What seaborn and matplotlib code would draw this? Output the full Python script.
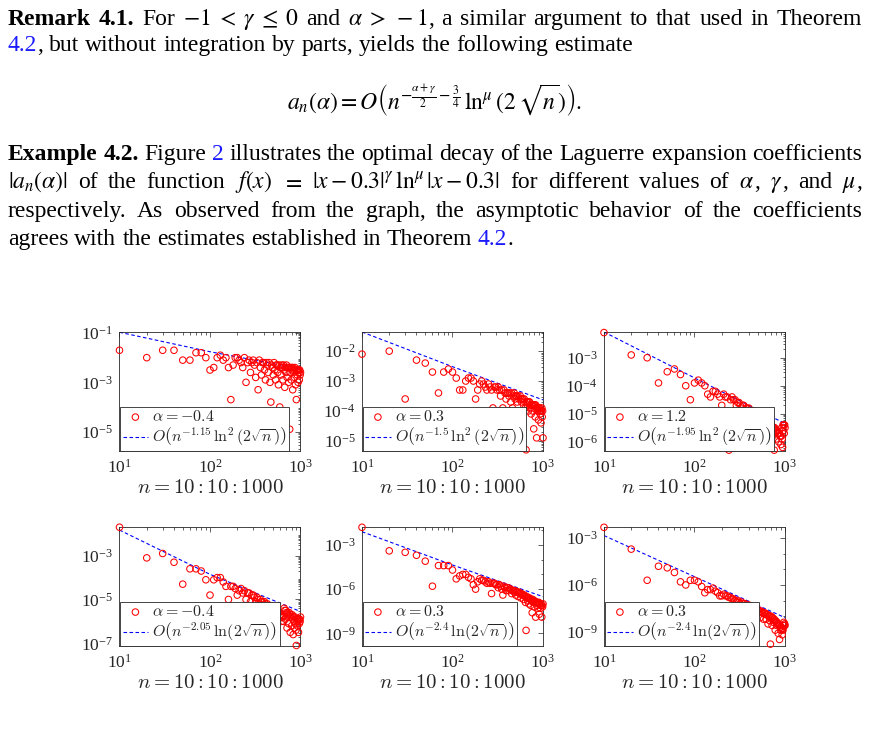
import matplotlib
matplotlib.use("Agg")
import matplotlib.pyplot as plt
import matplotlib.ticker as mticker
import numpy as np
import pandas as pd
import seaborn as sns

# ---------------- data ----------------
N_VALUES = list(range(10, 1001, 10))   # n = 10:10:1000

# log10 |a_n(alpha)| for each panel, n = 10, 20, ..., 1000
P1_LOG = [-1.7, -2.0, -1.7, -1.7, -2.1, -2.1, -1.8, -1.8, -2.0, -2.5,
          -2.4, -2.0, -1.9, -2.1, -2.0, -2.4, -3.7, -2.3, -2.0, -2.0,
          -2.1, -2.2, -2.4, -2.0, -3.0, -2.2, -2.1, -2.6, -2.2, -2.1,
          -2.3, -2.8, -2.2, -3.3, -2.1, -2.4, -2.7, -2.2, -2.2, -2.5,
          -2.9, -2.2, -2.3, -2.6, -2.2, -3.0, -3.8, -2.3, -2.4, -2.7,
          -2.2, -2.5, -2.9, -2.3, -2.3, -2.6, -3.1, -2.3, -4.0, -2.4,
          -2.7, -2.3, -2.4, -2.9, -2.3, -2.5, -3.2, -2.4, -2.6, -2.3,
          -2.8, -2.4, -2.4, -3.0, -2.4, -4.9, -2.6, -2.4, -2.9, -2.4,
          -2.5, -3.3, -2.4, -2.6, -2.5, -2.8, -2.4, -3.1, -2.5, -3.7,
          -2.5, -2.7, -2.5, -3.0, -2.5, -2.6, -2.9, -2.5, -2.7, -2.6]
P2_LOG = [-2.1, -2.0, -3.6, -2.3, -2.4, -2.7, -3.4, -2.7, -2.6, -2.7,
          -2.9, -3.3, -3.3, -3.0, -2.9, -2.9, -3.0, -3.6, -3.3, -3.1,
          -3.0, -3.1, -3.2, -3.3, -3.1, -3.2, -3.3, -3.9, -3.2, -3.2,
          -3.3, -3.2, -3.3, -3.5, -3.3, -3.9, -3.3, -3.4, -3.6, -3.4,
          -3.4, -3.5, -3.4, -3.7, -3.4, -3.9, -3.5, -3.4, -3.6, -3.5,
          -3.5, -3.7, -3.5, -3.6, -4.4, -3.5, -3.6, -3.7, -3.6, -3.6,
          -3.8, -3.6, -3.7, -3.9, -5.3, -3.7, -3.8, -3.7, -4.0, -3.7,
          -3.7, -3.9, -3.8, -4.1, -3.8, -3.8, -4.0, -3.8, -4.6, -3.8,
          -3.8, -4.2, -3.8, -3.9, -4.9, -3.9, -4.0, -3.9, -4.3, -3.9,
          -4.0, -3.9, -4.1, -4.0, -4.4, -4.0, -3.9, -4.2, -4.0, -4.9]
P3_LOG = [-2.1, -2.9, -3.0, -3.9, -3.5, -3.4, -3.6, -4.0, -4.5, -3.9,
          -3.8, -3.9, -4.0, -4.3, -4.4, -4.2, -4.2, -4.3, -4.4, -4.7,
          -4.3, -4.4, -4.4, -6.3, -4.5, -4.4, -4.5, -4.5, -4.7, -4.6,
          -4.6, -4.7, -4.8, -4.7, -4.7, -5.0, -4.8, -4.8, -4.9, -4.8,
          -4.9, -5.2, -4.9, -4.9, -5.0, -5.0, -5.3, -5.0, -5.1, -5.0,
          -5.1, -5.1, -5.4, -5.1, -5.1, -5.2, -5.2, -5.5, -5.2, -5.2,
          -5.3, -5.3, -5.6, -5.3, -5.3, -5.4, -5.4, -5.7, -5.4, -5.4,
          -5.4, -5.5, -5.8, -5.5, -5.5, -6.3, -5.5, -5.6, -5.6, -5.9,
          -5.6, -5.6, -5.7, -5.7, -6.0, -5.7, -5.7, -5.8, -5.8, -6.1,
          -5.8, -5.5, -5.9, -6.2, -5.4, -5.6, -5.4, -5.7, -5.4, -5.5]
P4_LOG = [-1.7, -3.1, -2.9, -3.3, -4.3, -3.6, -3.6, -3.7, -4.1, -4.8,
          -4.1, -4.0, -4.0, -4.2, -4.4, -5.0, -4.4, -4.4, -4.5, -4.8,
          -4.6, -4.5, -4.7, -4.6, -5.0, -4.7, -4.7, -5.1, -4.8, -4.8,
          -4.9, -5.1, -4.9, -5.0, -5.2, -5.0, -5.1, -5.1, -5.4, -5.1,
          -5.2, -5.3, -5.2, -5.4, -5.3, -5.3, -5.6, -5.3, -5.4, -5.5,
          -5.4, -5.7, -5.5, -5.5, -5.6, -5.6, -5.9, -5.6, -5.7, -5.7,
          -5.8, -6.0, -5.8, -5.8, -6.0, -5.4, -5.5, -5.9, -5.5, -5.6,
          -6.3, -5.6, -5.7, -6.1, -5.6, -5.8, -6.5, -5.7, -5.8, -6.2,
          -5.7, -5.9, -6.6, -5.8, -6.0, -6.3, -5.8, -6.1, -6.4, -7.1,
          -5.9, -6.2, -5.9, -6.0, -6.5, -5.9, -6.1, -5.9, -6.0, -5.8]
P5_LOG = [-1.8, -3.4, -3.5, -3.7, -4.1, -5.8, -4.4, -4.4, -4.4, -4.7,
          -5.3, -5.1, -5.0, -5.0, -5.2, -5.3, -5.7, -6.0, -5.5, -5.3,
          -5.4, -5.4, -5.5, -5.6, -5.5, -5.6, -6.3, -5.6, -5.6, -5.7,
          -5.7, -5.9, -5.7, -5.8, -6.0, -6.4, -5.8, -5.9, -6.1, -5.9,
          -5.9, -6.1, -6.0, -6.0, -6.3, -6.1, -6.1, -6.2, -6.1, -6.4,
          -6.2, -6.2, -6.5, -6.2, -6.3, -6.3, -6.6, -6.3, -6.4, -6.4,
          -6.7, -6.4, -6.5, -6.9, -8.8, -6.5, -6.6, -6.8, -6.6, -7.0,
          -6.6, -6.7, -7.1, -6.7, -6.8, -7.6, -6.7, -6.9, -6.8, -7.2,
          -6.8, -6.9, -7.9, -6.9, -6.9, -7.1, -6.9, -7.3, -7.0, -6.9,
          -7.7, -7.0, -7.0, -7.3, -7.1, -7.1, -7.9, -7.1, -7.2, -7.0]
P6_LOG = [-2.3, -3.7, -5.7, -4.8, -4.9, -5.2, -5.8, -6.0, -5.7, -5.7,
          -5.8, -6.1, -6.5, -6.3, -6.3, -6.2, -6.4, -6.5, -6.7, -6.7,
          -6.6, -6.7, -6.7, -6.8, -6.8, -6.9, -6.9, -7.0, -7.1, -7.0,
          -7.1, -7.2, -7.1, -7.4, -7.2, -7.2, -7.3, -7.5, -7.3, -7.3,
          -7.4, -7.4, -7.7, -7.4, -7.5, -7.5, -7.6, -7.9, -7.6, -7.6,
          -7.6, -7.7, -8.1, -7.7, -7.7, -7.8, -7.8, -8.2, -7.8, -7.8,
          -7.9, -8.2, -7.9, -7.9, -8.5, -8.0, -8.0, -8.3, -9.8, -8.0,
          -8.1, -8.6, -8.1, -8.2, -8.4, -8.2, -8.3, -8.9, -8.3, -8.4,
          -8.6, -8.4, -8.5, -9.1, -8.5, -8.6, -9.5, -8.6, -8.7, -8.9,
          -8.7, -8.8, -9.2, -8.8, -8.9, -8.6, -8.4, -8.6, -8.5, -8.6]

# dashed reference rate, log10 values read at n = 10, 100, 1000
RATE_N = [10, 100, 1000]
P1_RATE = [-0.97, -1.76, -2.45]
P2_RATE = [-1.36, -2.52, -3.63]
P3_RATE = [-2.08, -3.72, -5.35]
P4_RATE = [-1.83, -3.85, -5.55]
P5_RATE = [-2.10, -4.36, -6.51]
P6_RATE = [-2.83, -5.47, -8.10]

ALPHA_LABELS = [r"$\alpha = -0.4$", r"$\alpha = 0.3$", r"$\alpha = 1.2$",
                r"$\alpha = -0.4$", r"$\alpha = 0.3$", r"$\alpha = 0.3$"]
RATE_LABELS = [r"$O\left(n^{-1.15}\,\ln^2(2\sqrt{n})\right)$",
               r"$O\left(n^{-1.5}\,\ln^2(2\sqrt{n})\right)$",
               r"$O\left(n^{-1.95}\,\ln^2(2\sqrt{n})\right)$",
               r"$O\left(n^{-2.05}\,\ln(2\sqrt{n})\right)$",
               r"$O\left(n^{-2.4}\,\ln(2\sqrt{n})\right)$",
               r"$O\left(n^{-2.4}\,\ln(2\sqrt{n})\right)$"]
YTICK_EXP = [[-5, -3, -1], [-5, -4, -3, -2], [-6, -5, -4, -3],
             [-7, -5, -3], [-9, -6, -3], [-9, -6, -3]]
YLIM_EXP = [(-5.77, -0.96), (-5.33, -1.36), (-6.32, -2.08),
            (-7.11, -1.69), (-9.84, -1.78), (-9.90, -2.28)]

# page text
EQUATION = (r"$a_n(\alpha) = O\left(n^{-\frac{\alpha+\gamma}{2}-\frac{3}{4}}"
            r"\,\ln^{\mu}(2\,\sqrt{n})\right).$")
TEXT_LINES = [
    ([("Remark 4.1.", "b"), (" For ", "r"), (r"$-1\;<\;\gamma\;\leq\;0$", "m"),
      (" and ", "r"), (r"$\alpha\;>\;-1$", "m"),
      (", a similar argument to that used in Theorem", "r")], 25, True),
    ([("4.2", "l"), (", but without integration by parts, yields the following estimate", "r")], 51, False),
    ([("Example 4.2.", "b"), (" Figure ", "r"), ("2", "l"),
      (" illustrates the optimal decay of the Laguerre expansion coefficients", "r")], 160, True),
    ([(r"$|a_n(\alpha)|$", "m"), (" of the function ", "r"), (r"$f(x)$", "m"), (" ", "r"),
      (r"$=$", "m"), (" ", "r"), (r"$|x-0.3|^{\gamma}\,\ln^{\mu}|x-0.3|$", "m"),
      (" for different values of ", "r"), (r"$\alpha$", "m"), (", ", "r"),
      (r"$\gamma$", "m"), (", and ", "r"), (r"$\mu$", "m"), (",", "r")], 188, True),
    ([("respectively.  As observed from the graph, the asymptotic behavior of the coefficients", "r")], 217, True),
    ([("agrees with the estimates established in Theorem ", "r"), ("4.2", "l"), (".", "r")], 245, False),
]

# ---------------- style ----------------
W, H, DPI = 870, 734, 100
LINK_BLUE = "#1a1aff"
AX_COLOR = "#262626"
BODY_SIZE = 17

sns.set_style("white")
plt.rcParams["font.family"] = ["Liberation Serif", "DejaVu Serif"]
plt.rcParams["mathtext.fontset"] = "cm"
plt.rcParams["axes.linewidth"] = 0.6

fig = plt.figure(figsize=(W / DPI, H / DPI), dpi=DPI)
renderer = fig.canvas.get_renderer()


def put_line(segs, y_px, justify, x0=8, x1=862, size=BODY_SIZE):
    # split into words, remembering which ones follow a space
    tokens, pend = [], False
    for text, kind in segs:
        if kind == "m":
            tokens.append((text, kind, pend))
            pend = False
            continue
        for k, w in enumerate(text.split(" ")):
            if k > 0:
                pend = True
            if w:
                tokens.append((w, kind, pend))
                pend = False
    arts = []
    for text, kind, sp in tokens:
        kw = dict(fontsize=size, va="baseline", ha="left", math_fontfamily="stix",
                  color="black")
        if kind == "b":
            kw["fontweight"] = "bold"
        if kind == "l":
            kw["color"] = LINK_BLUE
        t = fig.text(0, 1 - y_px / H, text, **kw)
        arts.append((t, sp))
    widths = [t.get_window_extent(renderer).width for t, _ in arts]
    n_sp = sum(1 for i, (_, sp) in enumerate(arts) if sp and i > 0)
    gap = (x1 - x0 - sum(widths)) / n_sp if justify else size * DPI / 72 * 0.25
    x = x0
    for i, ((t, sp), w) in enumerate(zip(arts, widths)):
        if i > 0 and sp:
            x += gap
        t.set_x(x / W)
        x += w


for segs, y_px, just in TEXT_LINES:
    put_line(segs, y_px, just)

fig.text(435 / W, 1 - 100 / H, EQUATION, fontsize=BODY_SIZE, ha="center", va="center",
         math_fontfamily="stix", color="black")

# ---------------- panels ----------------
panel_logs = [P1_LOG, P2_LOG, P3_LOG, P4_LOG, P5_LOG, P6_LOG]
panel_rates = [P1_RATE, P2_RATE, P3_RATE, P4_RATE, P5_RATE, P6_RATE]
col_left = [119.5, 362.0, 604.0]
row_bottom = [450.7, 645.7]
ax_w, ax_h = 181.0, 118.7

for k in range(6):
    r, c = divmod(k, 3)
    ax = fig.add_axes([col_left[c] / W, 1 - row_bottom[r] / H, ax_w / W, ax_h / H])
    ax.set_xscale("log")
    ax.set_yscale("log")

    df = pd.DataFrame({"n": N_VALUES, "a": 10.0 ** np.array(panel_logs[k])})
    rate = pd.DataFrame({"n": RATE_N, "a": 10.0 ** np.array(panel_rates[k])})

    sns.scatterplot(data=df, x="n", y="a", ax=ax, marker="o", s=22,
                    facecolor="none", edgecolor="#ff0000", linewidth=0.75,
                    clip_on=False, zorder=3, label=ALPHA_LABELS[k], legend=False)
    sns.lineplot(data=rate, x="n", y="a", ax=ax, color="#0000ff", errorbar=None,
                 linestyle=(0, (3.2, 2.2)), linewidth=0.8, label=RATE_LABELS[k],
                 legend=False)

    ax.set_xlim(10, 1000)
    lo, hi = YLIM_EXP[k]
    ax.set_ylim(10.0 ** lo, 10.0 ** hi)

    ax.xaxis.set_major_locator(mticker.FixedLocator([10, 100, 1000]))
    ax.xaxis.set_minor_locator(mticker.LogLocator(base=10, subs=np.arange(2, 10), numticks=20))
    ax.yaxis.set_major_locator(mticker.FixedLocator([10.0 ** e for e in YTICK_EXP[k]]))
    if k >= 4:
        ax.yaxis.set_minor_locator(mticker.LogLocator(base=10, subs=(1.0,), numticks=30))
    else:
        ax.yaxis.set_minor_locator(mticker.LogLocator(base=10, subs=np.arange(2, 10), numticks=30))
    ax.xaxis.set_major_formatter(mticker.LogFormatterMathtext())
    ax.yaxis.set_major_formatter(mticker.LogFormatterMathtext())
    ax.xaxis.set_minor_formatter(mticker.NullFormatter())
    ax.yaxis.set_minor_formatter(mticker.NullFormatter())

    ax.tick_params(which="both", direction="in", top=True, right=True,
                   colors=AX_COLOR, width=0.5)
    ax.tick_params(which="major", length=3.5, labelsize=12.5, pad=4.5)
    ax.tick_params(axis="x", which="major", pad=6)
    ax.tick_params(which="minor", length=1.8)
    for sp in ax.spines.values():
        sp.set_visible(True)
        sp.set_color(AX_COLOR)
        sp.set_linewidth(0.6)

    ax.set_xlabel(r"$n = 10 : 10 : 1000$", fontsize=15, labelpad=1.5, color=AX_COLOR)
    ax.xaxis.label.set_math_fontfamily("cm")
    ax.set_ylabel("")

    handles = [ax.collections[0], ax.lines[0]]
    leg = ax.legend(handles, [ALPHA_LABELS[k], RATE_LABELS[k]], loc="lower left",
                    bbox_to_anchor=(0.004, 0.0), borderaxespad=0, frameon=True,
                    fancybox=False, framealpha=1, edgecolor=AX_COLOR, fontsize=11.5,
                    handlelength=1.6, handletextpad=0.25, borderpad=0.15,
                    labelspacing=0.05)
    leg.get_frame().set_linewidth(0.6)
    for t in leg.get_texts():
        t.set_math_fontfamily("cm")

fig.savefig("out.png", dpi=DPI, facecolor="white")
